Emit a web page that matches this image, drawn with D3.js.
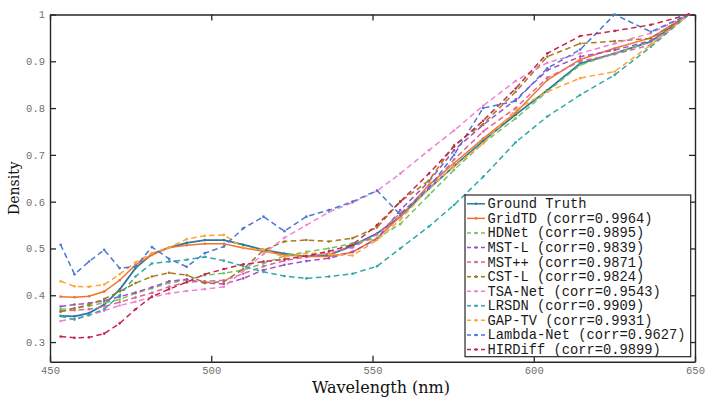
<!DOCTYPE html>
<html>
<head>
<meta charset="utf-8">
<script src="https://cdn.jsdelivr.net/npm/d3@7"></script>
<style>
  html, body { margin: 0; padding: 0; background: #fff; }
  svg { display: block; }
</style>
</head>
<body>
<div id="chart"></div>
<script>
// ---- data ----
const wavelengths = [453.3,457.6,462.1,466.8,471.6,476.5,481.6,486.9,492.4,498.0,503.9,509.9,516.2,522.7,529.5,536.5,543.8,551.4,558.6,567.5,575.3,584.3,594.4,604.2,614.4,625.1,636.3,648.1];

const seriesNames = ["Ground Truth","GridTD (corr=0.9964)","HDNet (corr=0.9895)","MST-L (corr=0.9839)","MST++ (corr=0.9871)","CST-L (corr=0.9824)","TSA-Net (corr=0.9543)","LRSDN (corr=0.9909)","GAP-TV (corr=0.9931)","Lambda-Net (corr=0.9627)","HIRDiff (corr=0.9899)"];

const groundTruth = [0.356,0.355,0.362,0.380,0.412,0.458,0.488,0.502,0.512,0.518,0.518,0.508,0.497,0.489,0.483,0.486,0.506,0.532,0.568,0.628,0.676,0.730,0.786,0.838,0.895,0.917,0.942,1.0];
const gridTD      = [0.397,0.396,0.398,0.408,0.432,0.465,0.486,0.502,0.507,0.510,0.510,0.501,0.494,0.486,0.483,0.483,0.492,0.522,0.568,0.636,0.682,0.735,0.790,0.860,0.904,0.928,0.950,1.0];
const hdnet       = [0.370,0.372,0.377,0.384,0.391,0.404,0.415,0.426,0.433,0.443,0.447,0.454,0.468,0.484,0.493,0.500,0.511,0.522,0.552,0.614,0.668,0.725,0.778,0.835,0.892,0.917,0.942,1.0];
const mstL        = [0.376,0.380,0.383,0.388,0.397,0.406,0.417,0.430,0.434,0.426,0.424,0.436,0.454,0.465,0.473,0.479,0.493,0.520,0.582,0.643,0.710,0.764,0.818,0.881,0.910,0.924,0.944,1.0];
const mstPP       = [0.366,0.368,0.370,0.376,0.385,0.395,0.405,0.418,0.428,0.430,0.432,0.446,0.462,0.474,0.482,0.490,0.502,0.530,0.575,0.628,0.690,0.750,0.800,0.865,0.900,0.915,0.935,1.0];
const cstL        = [0.365,0.372,0.380,0.392,0.408,0.426,0.440,0.448,0.443,0.427,0.429,0.456,0.496,0.515,0.518,0.515,0.522,0.545,0.600,0.645,0.721,0.766,0.835,0.910,0.938,0.943,0.949,1.0];
const tsaNet      = [0.345,0.350,0.357,0.367,0.378,0.386,0.396,0.404,0.409,0.413,0.418,0.452,0.488,0.523,0.550,0.578,0.598,0.623,0.660,0.710,0.752,0.805,0.858,0.897,0.917,0.938,0.960,1.0];
const lrsdn       = [0.355,0.348,0.358,0.370,0.400,0.440,0.468,0.472,0.476,0.482,0.474,0.462,0.450,0.441,0.436,0.440,0.446,0.462,0.500,0.547,0.593,0.653,0.727,0.782,0.828,0.871,0.931,1.0];
const gapTV       = [0.430,0.419,0.418,0.423,0.445,0.470,0.490,0.502,0.520,0.527,0.529,0.502,0.497,0.482,0.490,0.488,0.485,0.518,0.561,0.629,0.675,0.725,0.796,0.835,0.864,0.878,0.935,1.0];
const lambdaNet   = [0.508,0.445,0.472,0.497,0.458,0.461,0.503,0.478,0.461,0.490,0.504,0.543,0.568,0.537,0.568,0.582,0.600,0.624,0.572,0.630,0.700,0.800,0.815,0.885,0.925,1.0,0.963,1.0];
const hirDiff     = [0.312,0.309,0.310,0.318,0.340,0.370,0.397,0.413,0.428,0.445,0.456,0.466,0.472,0.477,0.484,0.494,0.508,0.550,0.600,0.660,0.718,0.773,0.842,0.917,0.954,0.965,0.978,1.0];

const seriesValues = [groundTruth, gridTD, hdnet, mstL, mstPP, cstL, tsaNet, lrsdn, gapTV, lambdaNet, hirDiff];
const seriesColors = ["#2b7a9c","#f07232","#72c563","#a24fc6","#e0649a","#a47a1e","#ef82d6","#30a9a8","#ffa534","#4a78d4","#c2284e"];
const seriesSolid  = [true, true, false, false, false, false, false, false, false, false, false];

const xTicks = [450, 500, 550, 600, 650];
const yTicks = [0.3, 0.4, 0.5, 0.6, 0.7, 0.8, 0.9, 1];
const yTickLabels = ["0.3","0.4","0.5","0.6","0.7","0.8","0.9","1"];

// ---- layout ----
const W = 714, H = 399;
const mLeft = 50, mRight = 695, mTop = 14.5, mBottom = 361.7;

const svg = d3.select("#chart").append("svg").attr("width", W).attr("height", H);
svg.append("rect").attr("width", W).attr("height", H).attr("fill", "#fff");

const x = d3.scaleLinear().domain([450, 650]).range([mLeft, mRight]);
const y = d3.scaleLinear().domain([0.258, 1]).range([mBottom, mTop]);

const axisColor = "#262626";
const tickLen = 6;
const tickFont = "'Liberation Mono', 'DejaVu Sans Mono', monospace";

const gx = svg.append("g").attr("transform", `translate(0,${mBottom})`)
  .call(d3.axisBottom(x).tickValues(xTicks).tickSizeInner(-tickLen).tickSizeOuter(0).tickPadding(5).tickFormat(d3.format("d")));
const gy = svg.append("g").attr("transform", `translate(${mLeft},0)`)
  .call(d3.axisLeft(y).tickValues(yTicks).tickSizeInner(-tickLen).tickSizeOuter(0).tickPadding(5)
    .tickFormat((d, i) => yTickLabels[i]));
const gt = svg.append("g").attr("transform", `translate(0,${mTop})`)
  .call(d3.axisTop(x).tickValues(xTicks).tickSizeInner(-tickLen).tickSizeOuter(0).tickFormat(""));
const gr = svg.append("g").attr("transform", `translate(${mRight},0)`)
  .call(d3.axisRight(y).tickValues(yTicks).tickSizeInner(-tickLen).tickSizeOuter(0).tickFormat(""));

[gx, gy, gt, gr].forEach(g => {
  g.select(".domain").attr("stroke", axisColor).attr("stroke-width", 1.4);
  g.selectAll(".tick line").attr("stroke", axisColor).attr("stroke-width", 1.3);
  g.selectAll(".tick text").attr("fill", "#707070").style("font-family", tickFont).style("font-size", "10.5px");
});

// ---- lines ----
const line = d3.line().x((d, i) => x(wavelengths[i])).y(d => y(d));
const plot = svg.append("g");
seriesValues.forEach((vals, s) => {
  plot.append("path")
    .attr("d", line(vals))
    .attr("fill", "none")
    .attr("stroke", seriesColors[s])
    .attr("stroke-width", s === 0 ? 1.8 : 1.5)
    .attr("stroke-dasharray", seriesSolid[s] ? null : "5.5,3.5");
  plot.selectAll(null).data(vals).enter().append("circle")
    .attr("cx", (d, i) => x(wavelengths[i]))
    .attr("cy", d => y(d))
    .attr("r", 1.3)
    .attr("fill", seriesColors[s]);
});

// ---- legend ----
const lgX0 = 465, lgY0 = 195, lgX1 = 690.7, lgY1 = 356.7;
const lg = svg.append("g");
lg.append("rect").attr("x", lgX0).attr("y", lgY0).attr("width", lgX1 - lgX0).attr("height", lgY1 - lgY0)
  .attr("fill", "#fff").attr("stroke", axisColor).attr("stroke-width", 1.2);
const rowH = 14.57, row0 = 203.8;
seriesNames.forEach((name, s) => {
  const cy = row0 + s * rowH;
  lg.append("line").attr("x1", 467).attr("x2", 485).attr("y1", cy).attr("y2", cy)
    .attr("stroke", seriesColors[s]).attr("stroke-width", 1.5)
    .attr("stroke-dasharray", seriesSolid[s] ? null : "4,3");
  lg.append("circle").attr("cx", 476).attr("cy", cy).attr("r", 1.3).attr("fill", seriesColors[s]);
  lg.append("text").attr("x", 487.5).attr("y", cy + 4.5)
    .style("font-family", tickFont).style("font-size", "13.75px").attr("fill", "#1a1a1a")
    .text(name);
});

// ---- axis labels ----
svg.append("text")
  .attr("x", 381).attr("y", 393)
  .attr("text-anchor", "middle")
  .style("font-family", "'DejaVu Serif', serif").style("font-size", "16px").attr("fill", "#111")
  .text("Wavelength (nm)");
svg.append("text")
  .attr("transform", `translate(18.5,${(mTop + mBottom) / 2}) rotate(-90)`)
  .attr("text-anchor", "middle")
  .style("font-family", "'DejaVu Serif', serif").style("font-size", "14px").attr("fill", "#111")
  .text("Density");
</script>
</body>
</html>
